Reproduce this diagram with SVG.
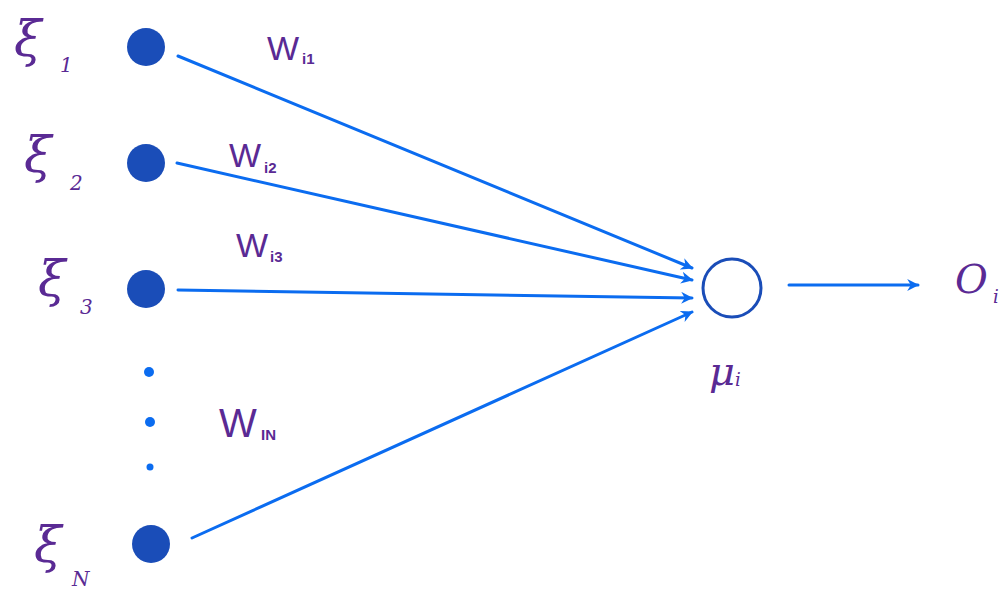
<svg xmlns="http://www.w3.org/2000/svg" width="1000" height="593" viewBox="0 0 1000 593">
<defs>
<marker id="arr" viewBox="0 0 10 10" refX="9" refY="5" markerWidth="4" markerHeight="4" orient="auto" markerUnits="strokeWidth">
<path d="M0,0 L10,5 L0,10 L3,5 Z" fill="#0b6cf0"/>
</marker>
<style>
.in{fill:#1a4db8}
.dot{fill:#0b6cf0}
.edge{stroke:#0b6cf0;stroke-width:3;fill:none;stroke-linecap:round}
.lbl{fill:#5a2a94;font-family:"DejaVu Serif","Liberation Serif",serif;font-style:italic}
.w{fill:#5a2a94;font-family:"Liberation Sans",Arial,sans-serif}
</style>
</defs>
<rect width="1000" height="593" fill="#ffffff"/>
<g id="connectors">
<line class="edge" x1="178" y1="56" x2="692" y2="268" marker-end="url(#arr)"/>
<line class="edge" x1="177" y1="163" x2="692" y2="280" marker-end="url(#arr)"/>
<line class="edge" x1="178" y1="290" x2="692" y2="298" marker-end="url(#arr)"/>
<line class="edge" x1="192" y1="538" x2="692" y2="312" marker-end="url(#arr)"/>
<line class="edge" x1="789" y1="285" x2="918" y2="285" marker-end="url(#arr)"/>
</g>
<g id="x1"><circle class="in" cx="146" cy="47" r="19"/><text class="lbl" x="14" y="56" font-size="50">ξ</text><text class="lbl" x="60" y="72" font-size="20">1</text></g>
<g id="x2"><circle class="in" cx="146" cy="163" r="19"/><text class="lbl" x="24" y="172" font-size="50">ξ</text><text class="lbl" x="70" y="190" font-size="20">2</text></g>
<g id="x3"><circle class="in" cx="146" cy="289" r="19"/><text class="lbl" x="38" y="296" font-size="50">ξ</text><text class="lbl" x="80" y="314" font-size="20">3</text></g>
<g id="dots"><circle class="dot" cx="149" cy="372" r="5"/><circle class="dot" cx="150" cy="422" r="5"/><circle class="dot" cx="150" cy="467" r="3.5"/></g>
<g id="xN"><circle class="in" cx="151" cy="544" r="19"/><text class="lbl" x="34" y="562" font-size="50">ξ</text><text class="lbl" x="72" y="586" font-size="20">N</text></g>
<g id="w1"><text class="w" x="267" y="60" font-size="34">W</text><text class="w" x="302" y="64" font-size="15" font-weight="bold">i1</text></g>
<g id="w2"><text class="w" x="229" y="167" font-size="34">W</text><text class="w" x="264" y="173" font-size="15" font-weight="bold">i2</text></g>
<g id="w3"><text class="w" x="236" y="257" font-size="34">W</text><text class="w" x="270" y="262" font-size="15" font-weight="bold">i3</text></g>
<g id="wN"><text class="w" x="219" y="437" font-size="40">W</text><text class="w" x="261" y="440" font-size="15" font-weight="bold">IN</text></g>
<g id="neuron"><circle cx="732" cy="288" r="29" fill="none" stroke="#1a4db8" stroke-width="3"/><text class="lbl" x="709" y="385" font-size="40">μ</text><text class="lbl" x="735" y="386" font-size="18">i</text></g>
<g id="output"><text class="lbl" x="955" y="293" font-size="40">O</text><text class="lbl" x="993" y="303" font-size="18">i</text></g>
</svg>
